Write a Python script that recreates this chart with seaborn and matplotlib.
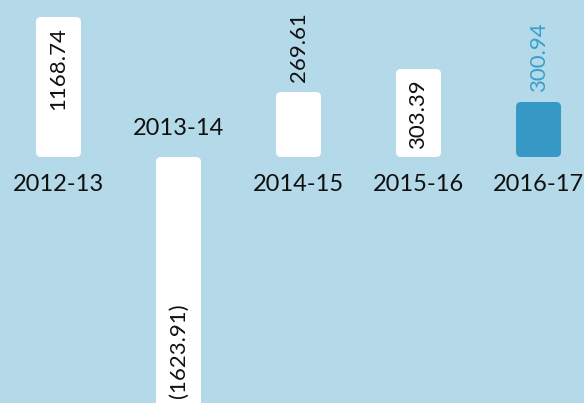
import matplotlib
matplotlib.use("Agg")
import matplotlib.pyplot as plt
from matplotlib.patches import FancyBboxPatch
import seaborn as sns
import pandas as pd

# data
years = ["2012-13", "2013-14", "2014-15", "2015-16", "2016-17"]
values = [1168.74, -1623.91, 269.61, 303.39, 300.94]
# drawn bar lengths (the picture does not scale bars by their labels)
bar_heights = [140, -250, 65, 88, 55]
highlight = "2016-17"

bg = "#b4d9e8"
blue = "#3598c5"
label_blue = "#3a9ecf"

df = pd.DataFrame({"year": years, "value": values, "height": bar_heights})

sns.set_theme(style="white")
plt.rcParams["font.family"] = ["Lato", "DejaVu Sans"]

fig = plt.figure(figsize=(5.84, 4.03), dpi=100, facecolor=bg)
ax = fig.add_axes([0, 0, 1, 1])
ax.set_facecolor(bg)

colors = [blue if y == highlight else "white" for y in years]
sns.barplot(data=df, x="year", y="height", hue="year", palette=colors,
            width=0.375, saturation=1, legend=False, ax=ax)

ax.set_xlim(-0.4875, 4.379)
ax.set_ylim(-246, 157)
ax.axis("off")

# swap the square bars for rounded ones
for p in list(ax.patches):
    x0, y0 = p.get_x(), p.get_y()
    w, h = p.get_width(), p.get_height()
    fc = p.get_facecolor()
    p.remove()
    if h < 0:
        y0, h = y0 + h, -h
    ax.add_patch(FancyBboxPatch((x0, y0), w, h,
                                boxstyle="round,pad=0,rounding_size=0.042",
                                mutation_aspect=120, fc=fc, ec="none"))

fs = 17
vfs = 16
for i, row in df.iterrows():
    h = row["height"]
    txt = f"{row['value']:.2f}" if row["value"] >= 0 else f"({-row['value']:.2f})"
    # year label on the other side of the baseline
    if h >= 0:
        ax.text(i, -17, row["year"], ha="center", va="top", fontsize=fs, color="#111111")
    else:
        ax.text(i, 18, row["year"], ha="center", va="bottom", fontsize=fs, color="#111111")
    inside = abs(h) > 80
    col = "#111111"
    if not inside and row["year"] == highlight:
        col = label_blue
    if h >= 0:
        if inside:
            ax.text(i, h - 10, txt, rotation=90, ha="center", va="top", fontsize=vfs, color=col)
        else:
            ax.text(i, h + 10, txt, rotation=90, ha="center", va="bottom", fontsize=vfs, color=col)
    else:
        ax.text(i, h + 9, txt, rotation=90, ha="center", va="bottom", fontsize=vfs, color=col)

fig.savefig("out.png", dpi=100, facecolor=bg)
